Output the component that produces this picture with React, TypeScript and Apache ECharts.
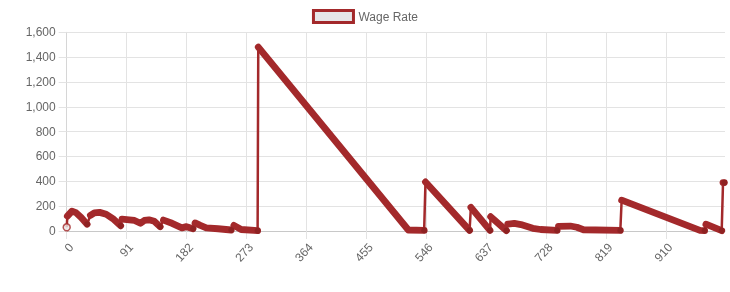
import React, { useEffect, useRef } from "react";
import * as echarts from "echarts";

// Category labels (indices of the series)
const xLabels: string[] = Array.from({ length: 1001 }, (_, i) => String(i));

// Wage Rate values as [index, value] vertices
const startPoint: number[] = [0, 30];
const runA1: number[][] = [[1, 120], [8, 160], [14, 148], [22, 108], [31, 55]];
const runA2: number[][] = [[36, 125], [42, 145], [50, 150], [60, 135], [70, 100], [82, 42]];
const runA3: number[][] = [[84, 95], [95, 90], [103, 85], [112, 62], [118, 85], [125, 90], [133, 78], [142, 35]];
const runA4: number[][] = [[147, 88], [160, 62], [175, 25], [182, 35], [192, 18]];
const runA5: number[][] = [[195, 65], [203, 45], [212, 25], [230, 18], [250, 8]];
const runA6: number[][] = [[254, 45], [265, 12], [285, 5], [290, 3]];
const runB: number[][] = [[291, 1480], [519, 8], [543, 5]];
const runC: number[][] = [[545, 395], [612, 5]];
const runD: number[][] = [[614, 190], [643, 5]];
const runE: number[][] = [[644, 115], [668, 3]];
const runF: number[][] = [[670, 55], [680, 62], [690, 52], [708, 22], [720, 12], [745, 5]];
const runG: number[][] = [[747, 38], [765, 40], [775, 30], [785, 10], [841, 5]];
const runH: number[][] = [[843, 248], [962, 5], [969, 3]];
const runI: number[][] = [[971, 55], [995, 3]];
const runJ: number[][] = [[997, 390], [999, 390]];

const runs = [runA1, runA2, runA3, runA4, runA5, runA6, runB, runC, runD, runE, runF, runG, runH, runI, runJ];

const yMin = 0;
const yMax = 1600;
const yStep = 200;

const LINE = "#a3292b";
const DOT = "#84201f";
const FONT = 'Arial, "Liberation Sans", Helvetica, sans-serif';

export default function App() {
  const ref = useRef<HTMLDivElement>(null);
  useEffect(() => {
    if (!ref.current) return;
    const chart = echarts.init(ref.current, undefined, { renderer: "svg" });
    const allPoints = [startPoint, ...runs.flat()];
    const runEnds = runs.map((r) => r[r.length - 1]);
    const thick = runs.map((r) => ({
      name: "band",
      type: "line",
      data: r,
      symbol: "none",
      clip: false,
      silent: true,
      z: 3,
      lineStyle: { width: 6.8, color: LINE, cap: "round", join: "round" },
    }));
    chart.setOption({
      animation: false,
      textStyle: { fontFamily: FONT },
      legend: {
        top: 4,
        left: "center",
        itemWidth: 40,
        itemHeight: 12,
        textStyle: { color: "#666", fontSize: 12, fontFamily: FONT },
        data: [
          {
            name: "Wage Rate",
            icon: "rect",
            itemStyle: { color: "#e6e6e8", borderColor: LINE, borderWidth: 3 },
          },
        ],
      },
      grid: { left: 66.7, right: 5, top: 32.3, bottom: 61, containLabel: false },
      xAxis: {
        type: "category",
        data: xLabels,
        boundaryGap: false,
        axisLine: { show: true, lineStyle: { color: "#c8c8c8", width: 1 } },
        axisTick: { show: true, interval: 90, length: 8, lineStyle: { color: "#e3e3e3" } },
        splitLine: { show: true, interval: 90, lineStyle: { color: "#e3e3e3", width: 1 } },
        axisLabel: {
          interval: 90,
          rotate: 48,
          margin: 10,
          verticalAlign: "top",
          color: "#666",
          fontSize: 12,
          fontFamily: FONT,
        },
      },
      yAxis: {
        type: "value",
        min: yMin,
        max: yMax,
        interval: yStep,
        axisLine: { show: true, lineStyle: { color: "#d6d6d6" } },
        axisTick: { show: true, length: 8, lineStyle: { color: "#e3e3e3" } },
        splitLine: { show: true, lineStyle: { color: "#e3e3e3" } },
        axisLabel: {
          margin: 11,
          color: "#666",
          fontSize: 12,
          fontFamily: FONT,
          formatter: (v: number) => v.toLocaleString("en-US"),
        },
      },
      series: [
        {
          name: "Wage Rate",
          type: "line",
          data: allPoints,
          symbol: "none",
          clip: false,
          z: 2,
          itemStyle: { color: LINE },
          lineStyle: { width: 2.5, color: LINE },
        },
        ...thick,
        {
          name: "ends",
          type: "scatter",
          data: runEnds,
          symbol: "circle",
          symbolSize: 6,
          clip: false,
          silent: true,
          z: 4,
          itemStyle: { color: DOT, opacity: 0.7 },
        },
        {
          name: "start",
          type: "scatter",
          data: [startPoint],
          symbol: "circle",
          symbolSize: 7,
          clip: false,
          silent: true,
          z: 4,
          itemStyle: { color: "#ece6e6", borderColor: LINE, borderWidth: 1.5 },
        },
      ],
    });
    return () => chart.dispose();
  }, []);
  return (
    <div
      ref={ref}
      style={{ position: "fixed", left: 0, top: 0, width: 730, height: 292 }}
    />
  );
}
